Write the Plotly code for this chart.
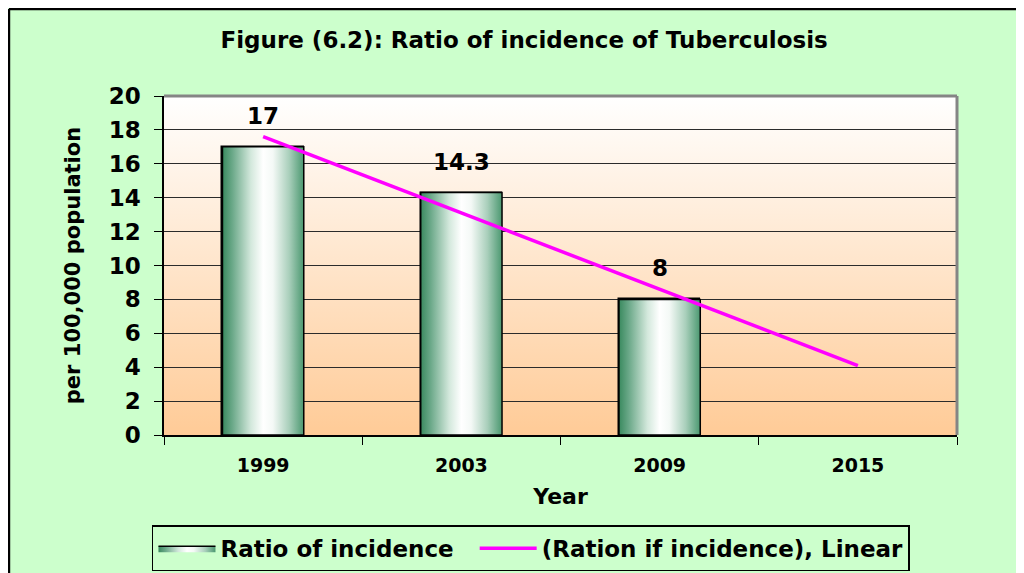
import base64
import plotly.graph_objects as go

# ── Data ──────────────────────────────────────────────────────────────────────
years = ["1999", "2003", "2009", "2015"]
bar_years = ["1999", "2003", "2009"]
incidence = [17, 14.3, 8]
trend = [17.6, 13.1, 8.6, 4.1]          # Excel linear trendline, forecast 1 period
y_ticks = list(range(0, 21, 2))

# ── Style ─────────────────────────────────────────────────────────────────────
FONT = "DejaVu Sans, Verdana, sans-serif"
BG = "#ccffcc"
BAR_W = 0.41
BAR_SCALE = [
    [0.0, "#3a8a5f"], [0.12, "#6aa888"], [0.35, "#d3e8dc"],
    [0.5, "#ffffff"], [0.62, "#f4f9f6"], [0.82, "#a9cfbb"], [1.0, "#4b9870"],
]

svg = (
    '<svg xmlns="http://www.w3.org/2000/svg" width="10" height="100">'
    '<defs><linearGradient id="g" x1="0" y1="0" x2="0" y2="1">'
    '<stop offset="0" stop-color="#ffffff"/><stop offset="1" stop-color="#ffcb97"/>'
    '</linearGradient></defs><rect width="10" height="100" fill="url(#g)"/></svg>'
)
bg_src = "data:image/svg+xml;base64," + base64.b64encode(svg.encode()).decode()

x_idx = {y: i for i, y in enumerate(years)}

fig = go.Figure()

# gradient fill of every bar (one trace each so the gradient spans one bar)
for n, (yr, v) in enumerate(zip(bar_years, incidence)):
    c = x_idx[yr]
    fig.add_trace(go.Scatter(
        x=[c - BAR_W / 2, c + BAR_W / 2, c + BAR_W / 2, c - BAR_W / 2, c - BAR_W / 2],
        y=[0, 0, v, v, 0],
        mode="lines",
        fill="toself",
        fillgradient=dict(type="horizontal", colorscale=BAR_SCALE),
        line=dict(color="black", width=1.5),
        name="Ratio of incidence&nbsp;&nbsp;",
        showlegend=(n == 0),
        hoverinfo="skip",
    ))

# bar outlines
fig.add_trace(go.Bar(
    x=[x_idx[y] for y in bar_years],
    y=incidence,
    width=BAR_W,
    marker=dict(color="rgba(0,0,0,0)", line=dict(color="black", width=1.5)),
    showlegend=False,
    hovertemplate="%{y}<extra></extra>",
))

# trendline
fig.add_trace(go.Scatter(
    x=[x_idx[y] for y in years],
    y=trend,
    mode="lines",
    line=dict(color="#ff00ff", width=3.5),
    name="(Ration if incidence), Linear",
))

# data labels
for yr, v in zip(bar_years, incidence):
    fig.add_annotation(
        x=x_idx[yr], y=v, text=f"{v:g}", showarrow=False,
        yanchor="middle", yshift=31,
        font=dict(family=FONT, size=23, color="black", weight="bold"),
    )

fig.update_layout(
    width=1016,
    height=565,
    paper_bgcolor=BG,
    plot_bgcolor="rgba(0,0,0,0)",
    margin=dict(l=156, r=67, t=88, b=138),
    font=dict(family=FONT, color="black", weight="bold"),
    title=dict(
        text="Figure (6.2): Ratio of incidence of Tuberculosis",
        x=0.508, xref="container", xanchor="center",
        y=0.943, yref="container", yanchor="middle",
        font=dict(family=FONT, size=23, color="black", weight="bold"),
    ),
    bargap=0,
    showlegend=True,
    legend=dict(
        orientation="h",
        xref="container", x=0.1417, xanchor="left",
        yref="container", y=0.0845, yanchor="top",
        bgcolor="rgba(0,0,0,0)",
        bordercolor="black",
        borderwidth=1.5,
        font=dict(family=FONT, size=23, color="black", weight="bold"),
        itemwidth=57,
        traceorder="normal",
    ),
    images=[dict(
        source=bg_src, xref="paper", yref="paper", x=0, y=1,
        sizex=1, sizey=1, xanchor="left", yanchor="top",
        sizing="stretch", layer="below",
    )],
    shapes=[
        # grey frame of the plot area (top + right)
        dict(type="line", xref="paper", yref="paper", x0=0, x1=1, y0=1, y1=1,
             line=dict(color="#858585", width=3), layer="above"),
        dict(type="line", xref="paper", yref="paper", x0=1, x1=1, y0=0, y1=1,
             line=dict(color="#858585", width=3), layer="above"),
        # outer chart border (left + top visible in the crop)
        dict(type="line", xref="paper", yref="paper", x0=-0.1955, x1=1.2,
             y0=1.2566, y1=1.2566, line=dict(color="black", width=2.5)),
        dict(type="line", xref="paper", yref="paper", x0=-0.1955, x1=-0.1955,
             y0=-0.5, y1=1.2566, line=dict(color="black", width=2.5)),
    ],
)

fig.update_xaxes(
    range=[-0.5, len(years) - 0.5],
    tickmode="array",
    tickvals=list(range(len(years))),
    ticktext=years,
    ticks="",
    ticklabelstandoff=12,
    minor=dict(tickmode="linear", tick0=0.5, dtick=1, ticks="outside",
               ticklen=8, tickcolor="black", tickwidth=1, showgrid=False),
    showline=True, linecolor="black", linewidth=1.5,
    showgrid=False, zeroline=False,
    tickfont=dict(family=FONT, size=19, color="black", weight="bold"),
    title=dict(text="Year", standoff=14,
               font=dict(family=FONT, size=22, color="black", weight="bold")),
    fixedrange=True,
)
fig.update_yaxes(
    range=[0, 20],
    tickmode="array",
    tickvals=y_ticks,
    ticks="outside", ticklen=8, tickcolor="black", tickwidth=1,
    ticklabelstandoff=9,
    showline=True, linecolor="black", linewidth=1.5,
    showgrid=True, gridcolor="#2b2b2b", gridwidth=1,
    zeroline=False,
    tickfont=dict(family=FONT, size=23, color="black", weight="bold"),
    title=dict(text="per 100,000 population", standoff=22,
               font=dict(family=FONT, size=21, color="black", weight="bold")),
    fixedrange=True,
)

fig.write_html("out.html")
